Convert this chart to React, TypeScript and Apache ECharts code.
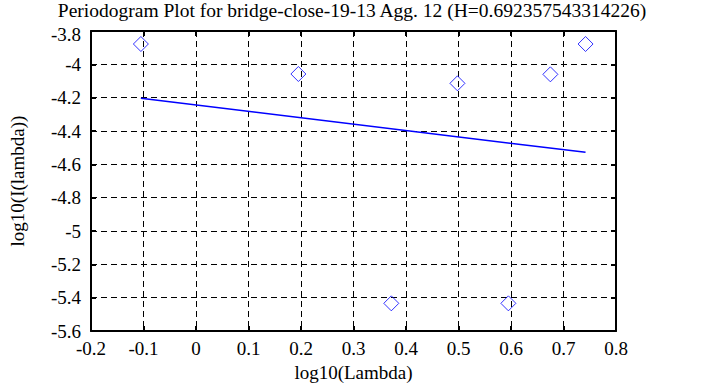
import React, { useEffect, useRef } from "react";
import * as echarts from "echarts";

const titleText = "Periodogram Plot for bridge-close-19-13 Agg. 12 (H=0.692357543314226)";
const xName = "log10(Lambda)";
const yName = "log10(I(lambda))";
const pointsX = [-0.105, 0.195, 0.372, 0.498, 0.595, 0.675, 0.742];
const pointsY = [-3.878, -4.058, -5.434, -4.114, -5.434, -4.06, -3.878];
const fitX = [-0.105, 0.742];
const fitY = [-4.204, -4.528];

const FONT = "Liberation Serif";

export default function App() {
  const ref = useRef<HTMLDivElement>(null);
  useEffect(() => {
    if (!ref.current) return;
    const chart = echarts.init(ref.current, undefined, { renderer: "svg" });
    const grid = { left: 89, top: 31, width: 527, height: 300 };
    const labelStyle = { color: "#000", fontFamily: FONT, fontSize: 19 };
    const xBase = {
      type: "value" as const,
      min: -0.2,
      max: 0.8,
      interval: 0.1,
      splitLine: { show: false },
    };
    const yBase = {
      type: "value" as const,
      min: -5.6,
      max: -3.8,
      interval: 0.2,
      splitLine: { show: false },
    };
    const axisLine = { show: true, onZero: false, lineStyle: { color: "#000", width: 2 } };
    const axisTick = { show: true, inside: true, length: 5, lineStyle: { color: "#000", width: 2 } };
    chart.setOption({
      animation: false,
      backgroundColor: "#fff",
      textStyle: { fontFamily: FONT },
      title: {
        text: titleText,
        left: 352,
        textAlign: "center",
        top: 0,
        padding: 0,
        textStyle: { color: "#000", fontFamily: FONT, fontSize: 19.5, fontWeight: "normal", lineHeight: 20 },
      },
      grid: { ...grid, containLabel: false },
      xAxis: [
        {
          ...xBase,
          position: "bottom",
          name: xName,
          nameLocation: "middle",
          nameGap: 26,
          nameTextStyle: { ...labelStyle },
          axisLine,
          axisTick,
          axisLabel: { ...labelStyle, margin: 8 },
          splitLine: { show: true, lineStyle: { color: "#000", type: [6, 4], width: 1 } },
        },
        {
          ...xBase,
          position: "top",
          axisLine,
          axisTick,
          axisLabel: { show: false },
        },
      ],
      yAxis: [
        {
          ...yBase,
          position: "left",
          name: yName,
          nameLocation: "middle",
          nameGap: 64,
          nameRotate: 90,
          nameTextStyle: { ...labelStyle },
          axisLine,
          axisTick,
          axisLabel: {
            ...labelStyle,
            margin: 10,
            formatter: (v: number) =>
              Math.abs(v - -3.8) < 1e-9 ? "{top|" + v + "}" : "{n|" + v + "}",
            rich: {
              top: { fontFamily: FONT, fontSize: 19, color: "#000", padding: [7, 0, 0, 0] },
              n: { fontFamily: FONT, fontSize: 19, color: "#000" },
            },
          },
          splitLine: { show: true, lineStyle: { color: "#000", type: [6, 4], width: 1 } },
        },
        {
          ...yBase,
          position: "right",
          axisLine,
          axisTick,
          axisLabel: { show: false },
        },
      ],
      series: [
        {
          type: "line",
          xAxisIndex: 0,
          yAxisIndex: 0,
          data: fitX.map((x, i) => [x, fitY[i]]),
          showSymbol: false,
          symbol: "none",
          lineStyle: { color: "#0000ff", width: 1.5 },
          z: 3,
        },
        {
          type: "scatter",
          xAxisIndex: 0,
          yAxisIndex: 0,
          data: pointsX.map((x, i) => [x, pointsY[i]]),
          symbol: "diamond",
          symbolSize: [15, 15],
          itemStyle: { color: "rgba(0,0,0,0)", borderColor: "#0000ff", borderWidth: 1 },
          z: 4,
        },
      ],
    });
    return () => chart.dispose();
  }, []);
  return (
    <div
      ref={ref}
      style={{ position: "fixed", left: 0, top: 0, width: 705, height: 387, background: "#fff" }}
    />
  );
}
